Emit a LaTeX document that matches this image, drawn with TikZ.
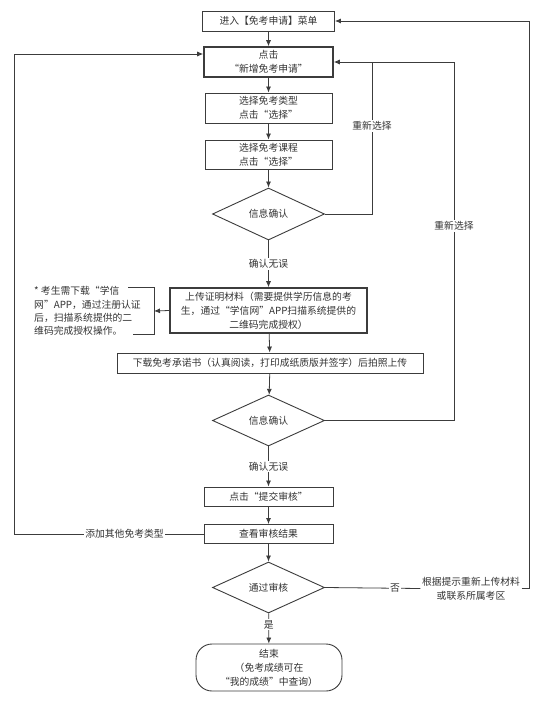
\documentclass[tikz,border=0pt]{standalone}
\usepackage{fontspec}
\setmainfont{Noto Sans CJK SC}
\usetikzlibrary{shapes.geometric,arrows.meta}
\definecolor{linec}{HTML}{3C3C3C}
\definecolor{txtc}{HTML}{333333}
\begin{document}
\begin{tikzpicture}[x=1pt,y=-1pt,
  font=\fontsize{9.8}{14}\selectfont,
  every node/.style={text=txtc},
  box/.style={draw=linec, line width=0.9pt, inner sep=0pt, align=center, fill=white},
  thickbox/.style={box, line width=1.6pt},
  dia/.style={draw=linec, line width=0.9pt, diamond, inner sep=0pt, minimum width=112pt, minimum height=52pt, align=center},
  endbox/.style={box, rounded corners=16pt},
  lbl/.style={fill=white, inner sep=1.2pt},
  conn/.style={draw=linec, line width=0.8pt},
  arr/.style={conn, -{Latex[length=6pt,width=5pt]}}]
\useasboundingbox (0,0) rectangle (548,704);
\fill[white] (0,0) rectangle (548,704);

\node[box, minimum width=132pt, minimum height=20pt] (b1) at (268.5,21) {进入【免考申请】菜单};
\node[thickbox, minimum width=129pt, minimum height=30pt] (b2) at (268.5,62) {点击\\“新增免考申请”};
\node[box, minimum width=127pt, minimum height=30pt] (b3) at (268.5,108) {选择免考类型\\点击“选择”};
\node[box, minimum width=127pt, minimum height=29pt] (b4) at (268.5,154.5) {选择免考课程\\点击“选择”};
\node[dia] (d1) at (268.5,214) {信息确认};
\node[thickbox, minimum width=197pt, minimum height=45pt] (b5) at (268.5,310.5) {上传证明材料（需要提供学历信息的考\\生，通过“学信网”APP扫描系统提供的\\二维码完成授权）};
\node[anchor=west, align=left, inner sep=0pt, font=\fontsize{9.8}{13.4}\selectfont] (note) at (34,311) {* 考生需下载“学信\\网”APP，通过注册认证\\后，扫描系统提供的二\\维码完成授权操作。};
\node[box, minimum width=306pt, minimum height=20pt] (b6) at (270,363) {下载免考承诺书（认真阅读，打印成纸质版并签字）后拍照上传};
\node[dia, minimum height=51pt] (d2) at (268.5,420.5) {信息确认};
\node[box, minimum width=129pt, minimum height=19pt] (b7) at (268.5,496.5) {点击“提交审核”};
\node[box, minimum width=129pt, minimum height=19pt] (b8) at (268.5,534) {查看审核结果};
\node[dia, minimum height=51pt] (d3) at (268.5,587.5) {通过审核};
\node[endbox, minimum width=146pt, minimum height=47pt] (e) at (269,667.5) {结束\\（免考成绩可在\\“我的成绩”中查询）};
\node[lbl, align=center, inner sep=1.5pt] (n2) at (471,588.5) {根据提示重新上传材料\\或联系所属考区};

% bracket of the note
\coordinate (br) at (154,311);
\draw[conn] (128,287) -- (154,287) -- (154,334) -- (133,334);

% main flow
\draw[arr] (b1) -- (b2);
\draw[arr] (b2) -- (b3);
\draw[arr] (b3) -- (b4);
\draw[arr] (b4) -- (d1);
\draw[arr] (d1) -- node[lbl] (l1) {确认无误} (b5);
\draw[arr] (b5) -- (b6);
\draw[arr] (b6) -- (d2);
\draw[arr] (d2) -- node[lbl] (l2) {确认无误} (b7);
\draw[arr] (b7) -- (b8);
\draw[arr] (b8) -- (d3);
\draw[arr] (d3) -- node[lbl, pos=0.38] (l3) {是} (e);
\draw[arr] (b5.west) -- (br);

% loops
\coordinate (r1) at (372,62);
\coordinate (r2) at (454,62);
\draw[arr] (d1.east) -| (r1) -- (b2.east);
\node[lbl] (lr1) at (372,126) {重新选择};
\draw[conn] (d2.east) -| (r2) -- (r1);
\node[lbl] (lr2) at (454,226) {重新选择};
\draw[conn] (d3.east) -- node[lbl, pos=0.736] (lno) {否} (n2.west);
\coordinate (r3) at (529,21);
\draw[arr] (n2.east) -| (r3) -- (b1.east);
\coordinate (lc) at (14,534);
\coordinate (lt) at (14,54);
\draw[arr] (b8.west) -- (lc) -- (lt) -- ([yshift=8pt]b2.west);
\node[lbl] (lad) at (124.5,533.5) {添加其他免考类型};
\end{tikzpicture}
\end{document}
